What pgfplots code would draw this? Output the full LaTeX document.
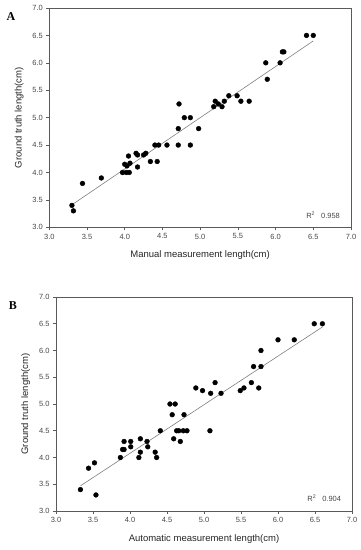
\documentclass[border=0pt]{standalone}
\usepackage{pgfplots}
\pgfplotsset{compat=1.18}
\usepackage{fontspec}
\setmainfont{Liberation Sans}
\newfontfamily\serifbold{Liberation Serif}
\definecolor{framegray}{RGB}{140,140,140}
\definecolor{axisgray}{RGB}{90,90,90}
\definecolor{ticktext}{RGB}{70,70,70}
\pgfplotsset{
  myax/.style={
    scale only axis,
    xmin=3, xmax=7, ymin=3, ymax=7,
    xtick={3,3.5,...,7}, ytick={3,3.5,...,7},
    /pgf/number format/assume math mode=true,
    /pgf/number format/fixed, /pgf/number format/fixed zerofill,
    /pgf/number format/precision=1,
    tick label style={font=\fontsize{7.5}{8}\selectfont, text=ticktext},
    label style={font=\fontsize{9.5}{11}\selectfont, text=black!85},
    xlabel style={yshift=-5pt},
    ylabel style={yshift=2pt},
    axis line style={framegray, line width=0.8pt},
    tick style={axisgray, line width=0.6pt},
    tick align=outside, major tick length=3pt,
    xtick pos=bottom, ytick pos=left,
    separate axis lines,
    every outer x axis line/.append style={axisgray},
    every outer y axis line/.append style={axisgray},
    clip=false,
  }
}
\begin{document}
\begin{tikzpicture}
\useasboundingbox (0pt,0pt) rectangle (361pt,-550pt);
% Panel A
\node[font=\serifbold\bfseries\fontsize{12}{14}\selectfont] at (11pt,-17pt) {A};
\begin{axis}[myax, at={(49.3pt,-227.3pt)}, anchor=south west, width=301.7pt, height=219.3pt,
  xlabel={Manual measurement length(cm)}, ylabel={Ground truth length(cm)},
  ]
\addplot[only marks, mark=*, mark size=2.4pt, black] coordinates {
(3.30,3.40) (3.32,3.30) (3.44,3.80) (3.69,3.90) (3.97,4.00) (4.02,4.00) (4.06,4.00)
(4.00,4.15) (4.07,4.17) (4.03,4.12) (4.17,4.10) (4.05,4.30) (4.15,4.35) (4.17,4.32)
(4.25,4.32) (4.28,4.35) (4.34,4.20) (4.43,4.20) (4.40,4.50) (4.45,4.50) (4.56,4.50)
(4.71,4.50) (4.87,4.50) (4.71,4.80) (4.98,4.80) (4.72,5.25) (4.79,5.00) (4.87,5.00)
(5.18,5.20) (5.20,5.30) (5.24,5.25) (5.29,5.20) (5.32,5.30) (5.38,5.40) (5.49,5.40)
(5.54,5.30) (5.65,5.30) (5.87,6.00) (5.89,5.70) (6.06,6.00) (6.09,6.20) (6.11,6.20)
(6.41,6.50) (6.50,6.50)
};
\addplot[gray, line width=0.6pt] coordinates {(3.31,3.42) (6.50,6.40)};
\node[anchor=east, font=\fontsize{7.5}{8}\selectfont, text=ticktext] at (axis cs:6.90,3.22) {R\textsuperscript{2}\hspace{6pt}0.958};
\end{axis}
% Panel B
\node[font=\serifbold\bfseries\fontsize{12}{14}\selectfont] at (13pt,-306pt) {B};
\begin{axis}[myax, at={(56pt,-511pt)}, anchor=south west, width=296pt, height=214pt,
  xlabel={Automatic measurement length(cm)}, ylabel={Ground truth length(cm)},
  ]
\addplot[only marks, mark=*, mark size=2.4pt, black] coordinates {
(3.33,3.40) (3.44,3.80) (3.52,3.90) (3.54,3.30) (3.87,4.00) (3.90,4.15) (3.92,4.15)
(3.92,4.30) (4.01,4.30) (4.01,4.20) (4.12,4.00) (4.14,4.10) (4.14,4.35) (4.23,4.30)
(4.24,4.20) (4.34,4.10) (4.36,4.00) (4.41,4.50) (4.54,5.00) (4.61,5.00) (4.57,4.80)
(4.59,4.35) (4.63,4.50) (4.66,4.50) (4.68,4.30) (4.72,4.50) (4.77,4.50) (4.73,4.80)
(4.89,5.30) (4.98,5.25) (5.08,4.50) (5.09,5.20) (5.15,5.40) (5.23,5.20) (5.49,5.25)
(5.54,5.30) (5.64,5.40) (5.67,5.70) (5.74,5.30) (5.77,5.70) (5.77,6.00) (6.00,6.20)
(6.22,6.20) (6.49,6.50) (6.60,6.50)
};
\addplot[gray, line width=0.6pt] coordinates {(3.33,3.47) (6.60,6.44)};
\node[anchor=east, font=\fontsize{7.5}{8}\selectfont, text=ticktext] at (axis cs:6.90,3.24) {R\textsuperscript{2}\hspace{6pt}0.904};
\end{axis}
\end{tikzpicture}
\end{document}
